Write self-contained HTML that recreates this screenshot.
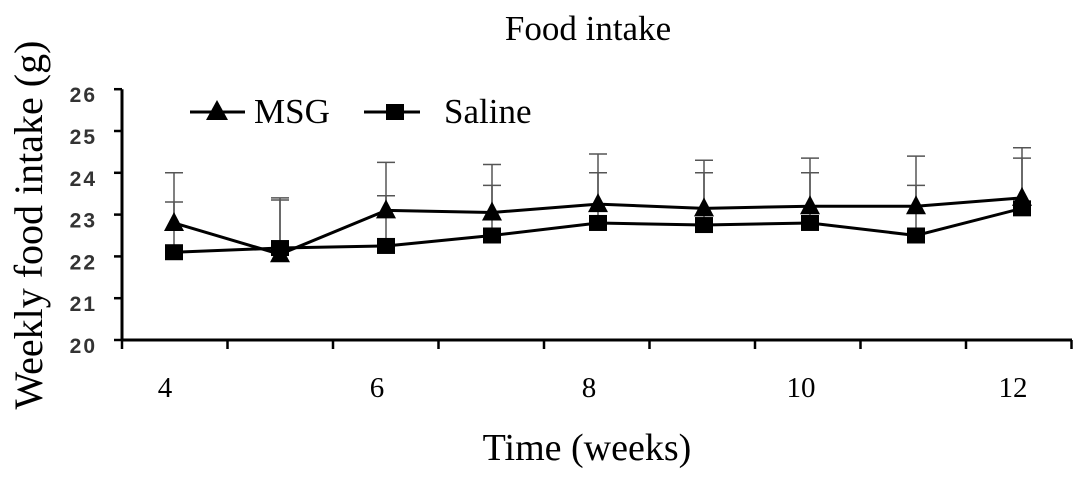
<!DOCTYPE html>
<html><head><meta charset="utf-8"><style>
body{margin:0;background:#fff}
svg{display:block;font-family:"Liberation Serif",serif}
</style></head><body>
<svg id="c" width="1087" height="480">
<text x="588" y="40" font-size="35" text-anchor="middle">Food intake</text>
<text transform="translate(42,225) rotate(-90)" font-size="40" text-anchor="middle">Weekly food intake (g)</text>
<text x="587" y="460" font-size="38" text-anchor="middle">Time (weeks)</text>
<g>
<g>
<line x1="190" y1="112" x2="245" y2="112" stroke="#000" stroke-width="3"/>
<polygon points="217,100 228,120 206,120" fill="#000"/>
<text x="254" y="123" font-size="35">MSG</text></g>
<g>
<line x1="364" y1="112" x2="420" y2="112" stroke="#000" stroke-width="3"/>
<rect x="386" y="104" width="18" height="16" fill="#000"/>
<text x="444" y="123" font-size="35">Saline</text></g>
</g>
<g id="plot"></g>
</svg>
<script>
const weeks=[4,5,6,7,8,9,10,11,12];
const msg=[22.8,22.05,23.1,23.05,23.25,23.15,23.2,23.2,23.4];
const msgErrTop=[24.0,23.4,24.25,24.2,24.45,24.3,24.35,24.4,24.6];
const saline=[22.1,22.2,22.25,22.5,22.8,22.75,22.8,22.5,23.15];
const salineErrTop=[23.3,23.35,23.45,23.7,24.0,24.0,24.0,23.7,24.35];
const yTicks=[20,21,22,23,24,25,26];
const xLabels=[4,6,8,10,12];
const NS="http://www.w3.org/2000/svg";
const g=document.getElementById('plot');
const X=w=>174+(w-4)*106;
const Y=v=>340-(v-20)*41.8;
function mk(t,a,p){const e=document.createElementNS(NS,t);for(const k in a)e.setAttribute(k,a[k]);(p||g).appendChild(e);return e;}
let ax=mk('line',{x1:122,y1:Y(26),x2:122,y2:340,stroke:'#000','stroke-width':3});


ax=mk('line',{x1:122,y1:340,x2:1072,y2:340,stroke:'#000','stroke-width':3});


yTicks.forEach(v=>{
 mk('line',{x1:114,y1:Y(v),x2:122,y2:Y(v),stroke:'#000','stroke-width':2.5});
 const t=mk('text',{x:97,y:Y(v)+13,'font-size':21,'text-anchor':'end','letter-spacing':2,fill:'#333','font-weight':'bold','font-family':'Liberation Sans, sans-serif'});t.textContent=v;
 
 
});
for(let i=0;i<=weeks.length;i++){const x=X(weeks[0])-52+i*105.5;mk('line',{x1:x,y1:340,x2:x,y2:349,stroke:'#000','stroke-width':2.5});}
xLabels.forEach(w=>{const t=mk('text',{x:X(w)-9,y:397,'font-size':29,'text-anchor':'middle'});t.textContent=w;
 
 });
function err(vals,tops){vals.forEach((v,i)=>{const x=X(weeks[i]);
 const l=mk('line',{x1:x,y1:Y(v),x2:x,y2:Y(tops[i]),stroke:'#555','stroke-width':1.5});
 
 
 mk('line',{x1:x-9,y1:Y(tops[i]),x2:x+9,y2:Y(tops[i]),stroke:'#555','stroke-width':1.5});});}
err(msg,msgErrTop);err(saline,salineErrTop);
function line(vals,name){const p=mk('polyline',{points:vals.map((v,i)=>X(weeks[i])+','+Y(v)).join(' '),fill:'none',stroke:'#000','stroke-width':3});
 
 }
line(msg,'msg-line');line(saline,'saline-line');
saline.forEach((v,i)=>{const r=mk('rect',{x:X(weeks[i])-9,y:Y(v)-8,width:18,height:16,fill:'#000'});
 
 });
msg.forEach((v,i)=>{const x=X(weeks[i]),y=Y(v);const p=mk('polygon',{points:`${x},${y-11} ${x+10},${y+8} ${x-10},${y+8}`,fill:'#000'});
 
 });
</script>
</body></html>
